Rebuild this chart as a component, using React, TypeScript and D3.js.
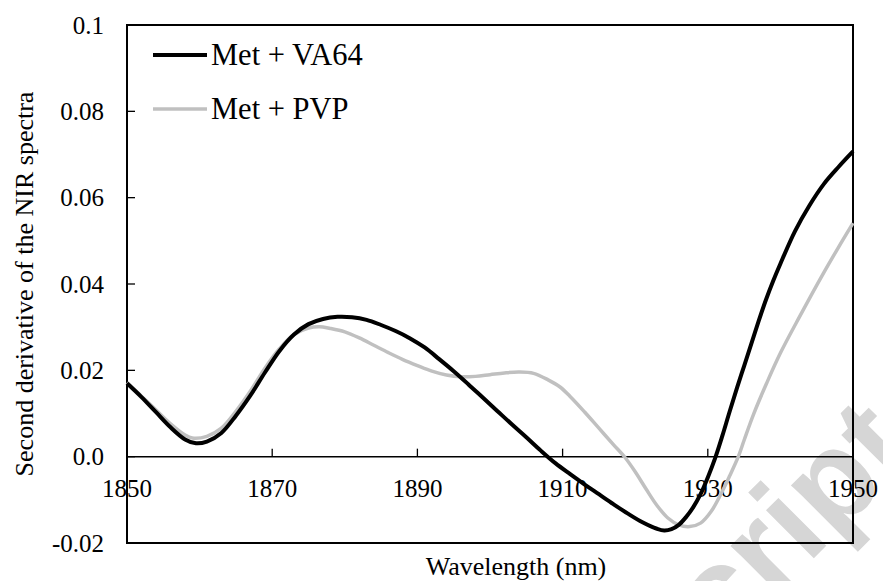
import React from "react";
import * as d3 from "d3";

const seriesNames = ["Met + VA64", "Met + PVP"];
const seriesColors = ["#000000", "#c0c0c0"];

const va64Wavelength = [1850, 1852, 1854, 1856, 1858, 1859.5, 1861, 1863, 1865, 1867, 1869, 1871, 1873, 1875, 1877, 1879, 1881, 1883, 1885, 1887, 1889, 1891, 1893, 1895, 1897, 1899, 1901, 1903, 1905, 1907, 1909, 1911, 1913, 1915, 1917, 1919, 1921, 1923, 1924, 1925, 1926, 1927, 1928, 1929, 1930, 1931, 1932, 1933, 1934, 1935, 1936, 1937, 1938, 1939, 1940, 1942, 1944, 1946, 1948, 1950];
const va64Values = [0.0170, 0.0138, 0.0103, 0.0068, 0.0040, 0.0031, 0.0035, 0.0055, 0.0095, 0.0142, 0.0195, 0.0245, 0.0283, 0.0307, 0.0319, 0.0324, 0.0323, 0.0317, 0.0305, 0.0291, 0.0274, 0.0253, 0.0226, 0.0198, 0.0168, 0.0137, 0.0106, 0.0075, 0.0045, 0.0014, -0.0015, -0.0040, -0.0064, -0.0087, -0.0110, -0.0132, -0.0152, -0.0167, -0.0171, -0.0168, -0.0158, -0.0140, -0.0117, -0.0087, -0.0048, -0.0004, 0.0048, 0.0104, 0.0158, 0.0210, 0.0262, 0.0314, 0.0363, 0.0407, 0.0447, 0.0522, 0.0582, 0.0632, 0.0671, 0.0707];

const pvpWavelength = [1850, 1852, 1854, 1856, 1858, 1859, 1861, 1863, 1865, 1867, 1869, 1871, 1873, 1875, 1876.5, 1878, 1880, 1882, 1884, 1886, 1888, 1890, 1892, 1894, 1896, 1898, 1900, 1902, 1904, 1906, 1908, 1909.6, 1911, 1913, 1915, 1917, 1918.6, 1920, 1921.5, 1923, 1924.5, 1926, 1927.5, 1929, 1930.5, 1932, 1933, 1934.2, 1935, 1936.3, 1938.1, 1940, 1942.7, 1945.9, 1948, 1950];
const pvpValues = [0.0172, 0.0140, 0.0108, 0.0076, 0.0050, 0.0043, 0.0047, 0.0066, 0.0105, 0.0152, 0.0205, 0.0250, 0.0283, 0.0298, 0.0301, 0.0297, 0.0289, 0.0275, 0.0258, 0.0241, 0.0225, 0.0211, 0.0198, 0.0189, 0.0185, 0.0186, 0.0190, 0.0194, 0.0196, 0.0193, 0.0178, 0.0162, 0.0140, 0.0104, 0.0066, 0.0028, -0.0002, -0.0035, -0.0075, -0.0113, -0.0142, -0.0158, -0.0162, -0.0154, -0.0126, -0.0080, -0.0045, 0.0000, 0.0038, 0.0098, 0.0170, 0.0240, 0.0326, 0.0424, 0.0485, 0.0541];

const xTicks = [1850, 1870, 1890, 1910, 1930, 1950];
const yTicks = [0.1, 0.08, 0.06, 0.04, 0.02, 0.0, -0.02];
const yTickLabels = ["0.1", "0.08", "0.06", "0.04", "0.02", "0.0", "-0.02"];

const xTitle = "Wavelength (nm)";
const yTitle = "Second derivative of the NIR spectra";
const watermark = "cript";

const W = 883;
const H = 581;
const L = 127;
const R = 853;
const T = 25;
const B = 543;

const SERIF = "'Liberation Serif', 'Times New Roman', Times, serif";

export default function App() {
  const x = d3.scaleLinear().domain([1850, 1950]).range([L, R]);
  const y = d3.scaleLinear().domain([-0.02, 0.1]).range([B, T]);
  const line = d3
    .line<[number, number]>()
    .x((d) => x(d[0]))
    .y((d) => y(d[1]))
    .curve(d3.curveCatmullRom.alpha(0.5));

  const series = [
    va64Wavelength.map((w, i) => [w, va64Values[i]] as [number, number]),
    pvpWavelength.map((w, i) => [w, pvpValues[i]] as [number, number]),
  ];

  const y0 = y(0);

  return (
    <svg
      width={W}
      height={H}
      style={{ position: "absolute", left: 0, top: 0, background: "#fff" }}
    >
      <rect x={0} y={0} width={W} height={H} fill="#fff" />
      {/* watermark */}
      <text
        x={0}
        y={0}
        transform="translate(722,650) rotate(-45)"
        style={{ fontFamily: "'Liberation Sans', Arial, sans-serif", fontWeight: "bold", fontSize: "128px" }}
        fill="#d6d6d6"
      >
        {watermark}
      </text>

      {/* frame */}
      <rect x={L} y={T} width={R - L} height={B - T} fill="none" stroke="#000" strokeWidth={2} />
      {/* zero axis */}
      <line x1={L} x2={R} y1={y0} y2={y0} stroke="#000" strokeWidth={1.5} />
      {xTicks.map((t) => (
        <g key={"xt" + t}>
          <line x1={x(t)} x2={x(t)} y1={y0} y2={y0 - 8} stroke="#000" strokeWidth={1.3} />
          <text x={x(t)} y={497} textAnchor="middle" style={{ fontFamily: SERIF, fontSize: "25px" }} fill="#000">
            {t}
          </text>
        </g>
      ))}
      {yTicks.map((t, i) => (
        <g key={"yt" + i}>
          <line x1={L} x2={L + 8} y1={y(t)} y2={y(t)} stroke="#000" strokeWidth={1.3} />
          <text x={104} y={y(t) + 8.5} textAnchor="end" style={{ fontFamily: SERIF, fontSize: "25px" }} fill="#000">
            {yTickLabels[i]}
          </text>
        </g>
      ))}

      {/* curves: gray under black */}
      <path d={line(series[1]) || ""} fill="none" stroke={seriesColors[1]} strokeWidth={3.5} />
      <path d={line(series[0]) || ""} fill="none" stroke={seriesColors[0]} strokeWidth={4} />

      {/* legend */}
      {seriesNames.map((n, i) => (
        <g key={n}>
          <line x1={153} x2={207} y1={55 + i * 54} y2={55 + i * 54} stroke={seriesColors[i]} strokeWidth={i === 0 ? 4 : 3.5} />
          <text x={211} y={65 + i * 53.5} style={{ fontFamily: SERIF, fontSize: "30.5px" }} fill="#000">
            {n}
          </text>
        </g>
      ))}

      {/* axis titles */}
      <text x={516} y={575} textAnchor="middle" style={{ fontFamily: SERIF, fontSize: "26px" }} fill="#000">
        {xTitle}
      </text>
      <text
        transform={`translate(33,${(T + B) / 2}) rotate(-90)`}
        textAnchor="middle"
        style={{ fontFamily: SERIF, fontSize: "26px" }}
        fill="#000"
      >
        {yTitle}
      </text>
    </svg>
  );
}
